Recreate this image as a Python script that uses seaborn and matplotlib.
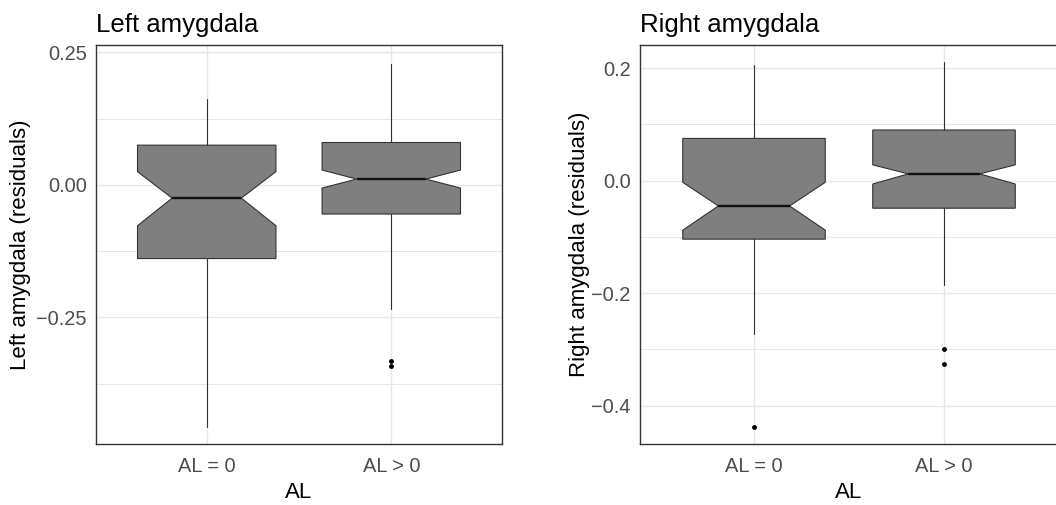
import matplotlib
matplotlib.use('Agg')
import matplotlib.pyplot as plt
from matplotlib.ticker import MultipleLocator, FuncFormatter
import seaborn as sns

# ── Data (box summaries) ────────────────────────────────────────
GROUPS = ["AL = 0", "AL > 0"]

left_whislo = [-0.457, -0.234]
left_q1     = [-0.139, -0.055]
left_cilo   = [-0.077, -0.006]
left_med    = [-0.025,  0.011]
left_cihi   = [ 0.025,  0.028]
left_q3     = [ 0.075,  0.080]
left_whishi = [ 0.163,  0.229]
left_fliers = [[], [-0.332, -0.342]]

right_whislo = [-0.273, -0.186]
right_q1     = [-0.104, -0.049]
right_cilo   = [-0.088, -0.006]
right_med    = [-0.045,  0.012]
right_cihi   = [-0.003,  0.028]
right_q3     = [ 0.075,  0.090]
right_whishi = [ 0.205,  0.210]
right_fliers = [[-0.438], [-0.299, -0.326]]


def make_stats(whislo, q1, cilo, med, cihi, q3, whishi, fliers):
    return [dict(label=g, whislo=whislo[i], q1=q1[i], cilo=cilo[i], med=med[i],
                 cihi=cihi[i], q3=q3[i], whishi=whishi[i], fliers=fliers[i])
            for i, g in enumerate(GROUPS)]


def fmt(decimals):
    return FuncFormatter(lambda v, p: f"{v:.{decimals}f}".replace("-", "\u2212"))


# ── Theme ───────────────────────────────────────────────────────
sns.set_theme(style="whitegrid")
plt.rcParams['font.family'] = ['Liberation Sans', 'DejaVu Sans']

EDGE = '#333333'
GRID = '#e6e6e6'

fig = plt.figure(figsize=(10.56, 5.05), dpi=100)
ax_l = fig.add_axes([96 / 1056, 61 / 505, 406 / 1056, 399 / 505])
ax_r = fig.add_axes([640 / 1056, 61 / 505, 418 / 1056, 399 / 505])


def draw_panel(ax, stats, title, ylabel, ylim, major, decimals, labelpad):
    ax.bxp(stats, positions=[0, 1], widths=0.75,
           shownotches=True, showcaps=False, patch_artist=True,
           boxprops=dict(facecolor='#7f7f7f', edgecolor=EDGE, linewidth=0.8),
           whiskerprops=dict(color=EDGE, linewidth=0.8),
           medianprops=dict(color='#111111', linewidth=1.7),
           flierprops=dict(marker='o', markersize=3.5, markerfacecolor='black',
                           markeredgecolor='none'))
    ax.set_xlim(-0.6, 1.6)
    ax.set_ylim(*ylim)
    ax.set_xticks([0, 1])
    ax.set_xticklabels(GROUPS)
    ax.yaxis.set_major_locator(MultipleLocator(major))
    ax.yaxis.set_minor_locator(MultipleLocator(major / 2))
    ax.yaxis.set_major_formatter(fmt(decimals))

    ax.set_facecolor('white')
    ax.set_axisbelow(True)
    ax.grid(which='major', color=GRID, linewidth=1.0)
    ax.grid(which='minor', axis='y', color=GRID, linewidth=0.7)
    for s in ax.spines.values():
        s.set_color(EDGE)
        s.set_linewidth(1.0)
    ax.tick_params(which='major', direction='out', length=3.6, width=0.8,
                   color=EDGE, labelcolor='#4d4d4d', labelsize=14.4, pad=3)
    ax.tick_params(axis='x', which='major', pad=6)
    ax.tick_params(which='minor', length=0)

    ax.set_title(title, loc='left', fontsize=18.5, pad=9.6, color='black')
    ax.set_ylabel(ylabel, fontsize=16, color='black', labelpad=labelpad)
    ax.set_xlabel("AL", fontsize=16, color='black', labelpad=4)


draw_panel(ax_l,
           make_stats(left_whislo, left_q1, left_cilo, left_med,
                      left_cihi, left_q3, left_whishi, left_fliers),
           "Left amygdala", "Left amygdala (residuals)",
           (-0.489, 0.264), 0.25, 2, 4)

draw_panel(ax_r,
           make_stats(right_whislo, right_q1, right_cilo, right_med,
                      right_cihi, right_q3, right_whishi, right_fliers),
           "Right amygdala", "Right amygdala (residuals)",
           (-0.468, 0.241), 0.2, 1, 1)

fig.savefig("out.png", dpi=100)
plt.close(fig)
print("Saved out.png")
